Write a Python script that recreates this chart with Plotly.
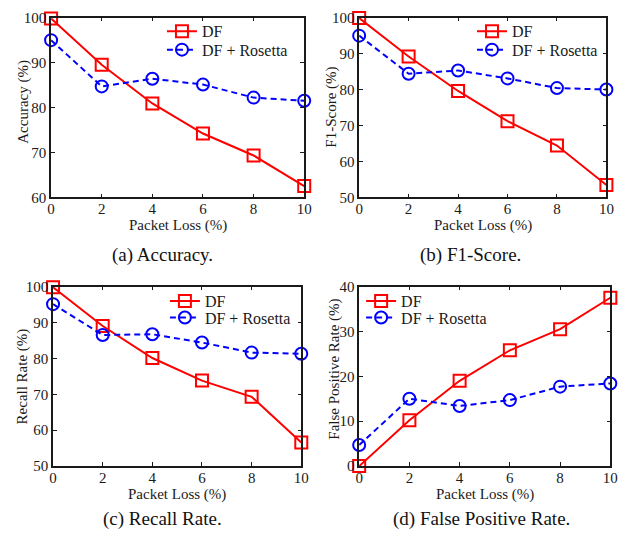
import plotly.graph_objects as go

W, H = 635, 543

packet_loss = [0, 2, 4, 6, 8, 10]

acc_df = [99.8, 89.5, 80.9, 74.2, 69.3, 62.5]
acc_ros = [95.0, 84.7, 86.4, 85.1, 82.2, 81.5]

f1_df = [99.9, 89.2, 79.6, 71.2, 64.4, 53.4]
f1_ros = [95.0, 84.4, 85.3, 83.1, 80.4, 80.0]

rec_df = [99.8, 89.0, 80.1, 73.8, 69.3, 56.6]
rec_ros = [95.1, 86.5, 86.7, 84.4, 81.6, 81.3]

fpr_df = [0.0, 10.2, 19.0, 25.8, 30.5, 37.5]
fpr_ros = [4.7, 15.0, 13.4, 14.7, 17.7, 18.4]

series_names = ["DF", "DF + Rosetta"]
y_titles = ["Accuracy (%)", "F1-Score (%)", "Recall Rate (%)", "False Positive Rate (%)"]
captions = ["(a) Accuracy.", "(b) F1-Score.", "(c) Recall Rate.", "(d) False Positive Rate."]
y_ranges = [[60, 100], [50, 100], [50, 100], [0, 40]]
x_ticks = [0, 2, 4, 6, 8, 10]

panels = [(acc_df, acc_ros), (f1_df, f1_ros), (rec_df, rec_ros), (fpr_df, fpr_ros)]

# pixel layout: plot boxes (left, right, top, bottom)
boxes = [(48, 306, 10, 195), (362, 614, 10, 195), (50, 303, 287, 472), (362, 618, 287, 472)]
legend_x = [161, 477, 164, 364]             # legend left edge
legend_rows = [(24, 43), (24, 43), (302, 319), (302, 319)]  # row centres
caption_pos = [(162, 254), (475, 254), (162, 526), (487, 526)]
xtitle_y = [224, 224, 501, 501]
ytitle_pos = [(20, 97), (334, 102), (19, 380), (336, 372)]

FONT = "Liberation Serif"
INK = "#1a1a1a"
fig = go.Figure()
layout = dict(
    width=W, height=H, margin=dict(l=0, r=0, t=0, b=0),
    paper_bgcolor="white", plot_bgcolor="white", showlegend=True,
    font=dict(family=FONT, size=15, color=INK),
)
annotations = []
leg_idx = 0
for i, ((dfv, rosv), box) in enumerate(zip(panels, boxes)):
    n = "" if i == 0 else str(i + 1)
    xa, ya = "x" + n, "y" + n
    l, r, t, b = box
    styles = [
        dict(line=dict(color="#ff0000", width=2),
             marker=dict(symbol="square-open", size=12, color="#ff0000", line=dict(width=2))),
        dict(line=dict(color="#0000ff", width=2, dash="6px,4px"),
             marker=dict(symbol="circle-open", size=12, color="#0000ff", line=dict(width=2))),
    ]
    for k, vals in enumerate((dfv, rosv)):
        leg_idx += 1
        leg = "legend" if leg_idx == 1 else "legend" + str(leg_idx)
        fig.add_trace(go.Scatter(
            x=packet_loss, y=vals, name=series_names[k], xaxis=xa, yaxis=ya, legend=leg,
            mode="lines+markers", cliponaxis=False, showlegend=True, **styles[k],
        ))
        layout[leg] = dict(
            x=legend_x[i] / W, y=1 - legend_rows[i][k] / H, xanchor="left", yanchor="middle",
            bgcolor="rgba(0,0,0,0)", borderwidth=0,
            font=dict(family=FONT, size=16, color=INK),
            itemwidth=30, visible=True,
        )
    axcommon = dict(
        showgrid=False, zeroline=False, showline=True, linecolor=INK, linewidth=1.5,
        mirror="allticks", ticks="inside", ticklen=4, tickcolor=INK, tickwidth=1,
        tickfont=dict(family=FONT, size=15, color=INK),
    )
    layout["xaxis" + n] = dict(
        axcommon, domain=[l / W, r / W], anchor=ya, range=[0, 10],
        tickvals=x_ticks, ticktext=[str(v) for v in x_ticks], ticklabelstandoff=-3,
    )
    y0, y1 = y_ranges[i]
    layout["yaxis" + n] = dict(
        axcommon, domain=[1 - b / H, 1 - t / H], anchor=xa, range=[y0, y1], dtick=10,
    )
    annotations.append(dict(
        text="Packet Loss (%)", x=(l + r) / 2 / W, y=1 - xtitle_y[i] / H,
        xref="paper", yref="paper", showarrow=False, xanchor="center", yanchor="middle",
        font=dict(family=FONT, size=15, color=INK),
    ))
    tx, ty = ytitle_pos[i]
    annotations.append(dict(
        text=y_titles[i], x=tx / W, y=1 - ty / H, textangle=-90,
        xref="paper", yref="paper", showarrow=False, xanchor="center", yanchor="middle",
        font=dict(family=FONT, size=15, color=INK),
    ))
    cx, cy = caption_pos[i]
    annotations.append(dict(
        text=captions[i], x=cx / W, y=1 - cy / H,
        xref="paper", yref="paper", showarrow=False, xanchor="center", yanchor="middle",
        font=dict(family=FONT, size=19, color="#111"),
    ))

layout["annotations"] = annotations
fig.update_layout(**layout)
fig.write_html("out.html", config={"displayModeBar": False},
               post_script="document.body.style.margin='0';document.body.style.overflow='hidden';")
